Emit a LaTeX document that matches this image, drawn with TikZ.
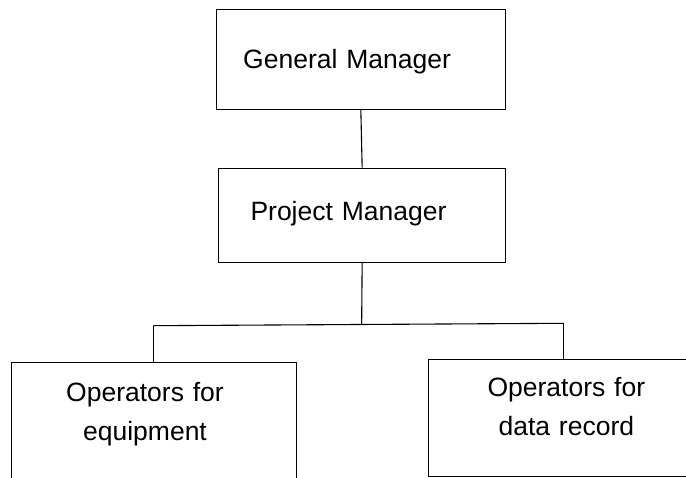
\documentclass[tikz,border=0pt]{standalone}
\usepackage{fontspec}
\setmainfont{Liberation Sans}
\begin{document}
\begin{tikzpicture}[x=1pt,y=-1pt,
  box/.style={draw=black, line width=1pt, rectangle, anchor=north west,
    inner ysep=0pt, minimum height=0pt, minimum width=0pt,
    font=\fontsize{26.5}{39.5}\selectfont},
  link/.style={draw=black, line width=1.1pt}]
\useasboundingbox (0,0) rectangle (686,478);
\clip (0,0) rectangle (686,478);
\node[box, inner xsep=27pt, text width=235.3pt, align=left,
  text height=59pt, text depth=40.7pt] (gm) at (215.7,9.3) {General Manager};
\node[box, inner xsep=31.7pt, text width=223.3pt, align=left,
  text height=52.3pt, text depth=41.7pt] (pm) at (218.3,167.7) {Project Manager};
\node[box, inner xsep=10pt, text width=265pt, align=center,
  text height=38.7pt, text depth=99pt] (eq) at (11,362.3)
  {Operators for\rule{18pt}{0pt}\\equipment\rule{18pt}{0pt}};
\node[box, inner xsep=10pt, text width=256.3pt, align=center,
  text height=37pt, text depth=79.7pt] (dr) at (427.7,359)
  {Operators for\\data record};
\coordinate (jm) at (361.65,324.5);
\coordinate (jl) at (153.3,325.7);
\coordinate (jr) at (563.3,323.3);
\draw[link] (gm.south) -- (pm.north);
\draw[link] (pm.south) -- (jm);
\draw[link] (jl) -- (jr);
\draw[link] (jl) -- (jl |- eq.north);
\draw[link] (jr) -- (jr |- dr.north);
\end{tikzpicture}
\end{document}
